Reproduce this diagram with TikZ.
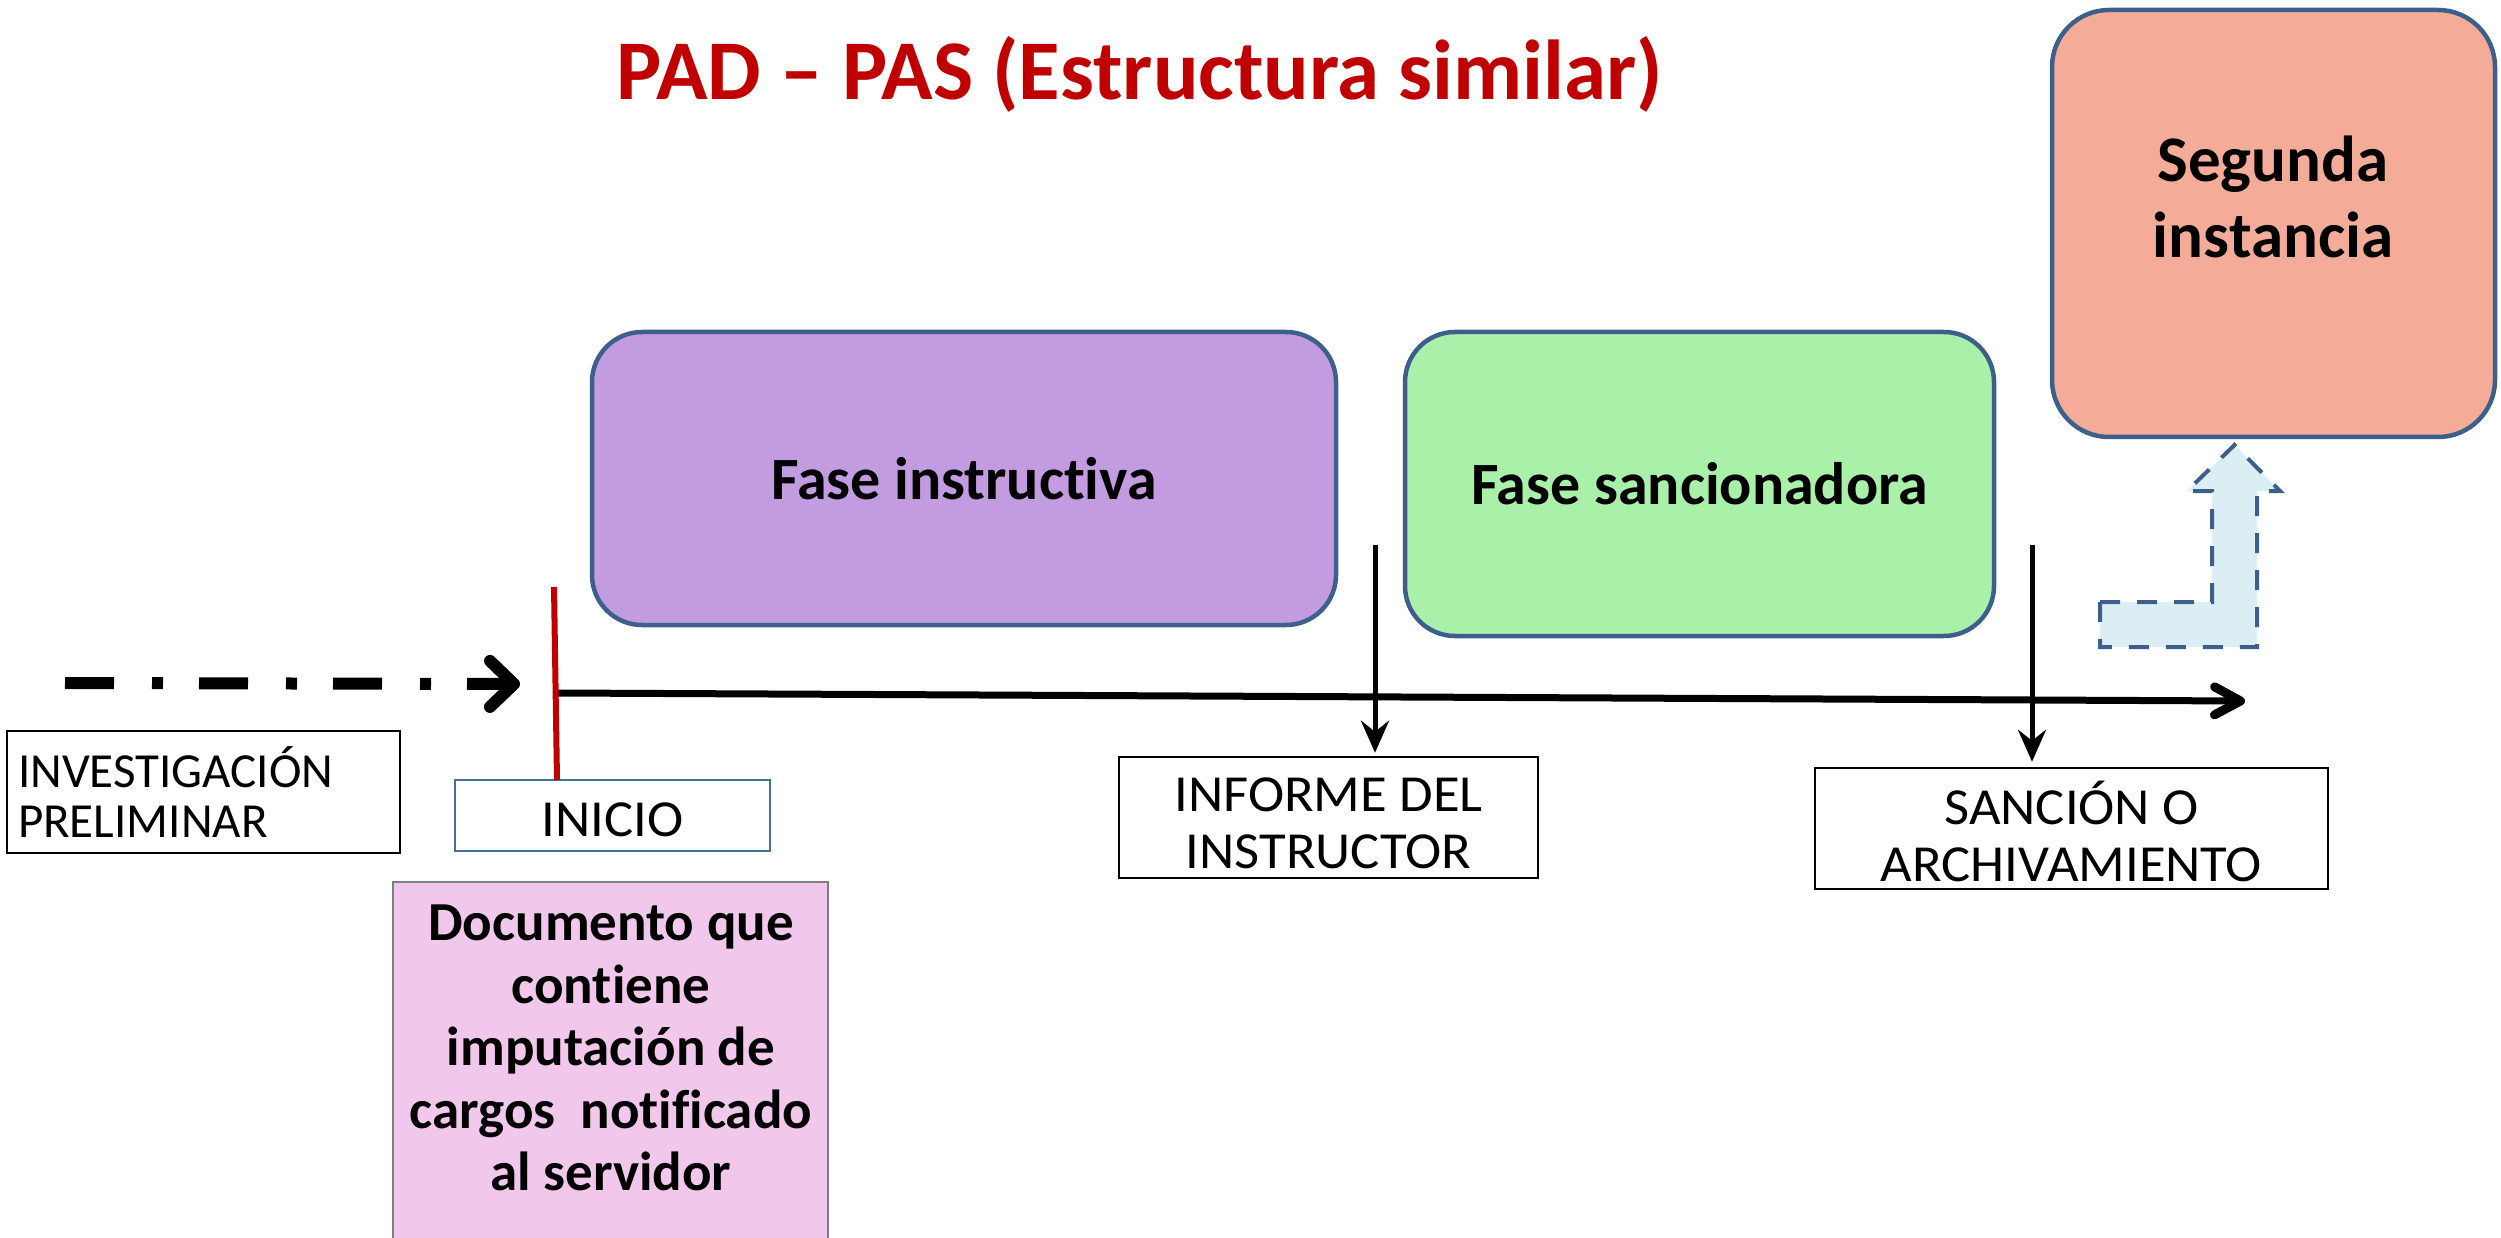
\documentclass[tikz,border=0pt]{standalone}
\usepackage{fontspec}
\setmainfont[Ligatures=NoCommon]{Carlito}
\newfontfamily\labfont[FakeStretch=1.05,Ligatures=NoCommon]{Carlito}
\usetikzlibrary{arrows.meta,calc}
\definecolor{titred}{HTML}{C00000}
\definecolor{purp}{HTML}{C39BE0}
\definecolor{grn}{HTML}{A9F1A9}
\definecolor{salm}{HTML}{F4AC98}
\definecolor{bordblue}{HTML}{3D5F8C}
\definecolor{pnk}{HTML}{F1C7EB}
\definecolor{ltblue}{HTML}{DAEEF3}
\definecolor{inicblue}{HTML}{41719C}
\definecolor{pnkborder}{HTML}{7F7F7F}
\begin{document}
\begin{tikzpicture}[x=1pt,y=-1pt,
  phase/.style={draw=bordblue, line width=4.5pt, rounded corners=50pt, inner sep=0pt, align=center,
    font=\bfseries\fontsize{60}{66}\selectfont},
  labbox/.style={draw=black, line width=2.5pt, fill=white, inner sep=0pt, align=center,
    font=\labfont\fontsize{52}{56}\selectfont},
  downarrow/.style={line width=5pt, -{Stealth[length=32pt,width=28pt,inset=11pt]}},
  ddarrow/.style={line width=12pt, dash pattern=on 49pt off 38pt on 11pt off 36pt,
    -{Straight Barb[length=24pt,width=46pt,round]}},
  axisarrow/.style={line width=7pt, -{Straight Barb[length=26pt,width=28pt,round,line width=9pt]}},
  bentarrow/.style={draw=bordblue, fill=ltblue, line width=4pt, dash pattern=on 20pt off 17pt},
]
\useasboundingbox (0,0) rectangle (2501,1238);

% title
\node[anchor=base, text=titred, font=\bfseries\fontsize{85}{90}\selectfont, inner sep=0pt] (title) at (1140,100) {PAD – PAS (Estructura similar)};

% phase boxes
\node[phase, fill=purp, minimum width=744pt, minimum height=293pt] (instr) at (964,478.5) {Fase instructiva};
\node[phase, fill=grn, minimum width=589pt, minimum height=304pt] (sanc) at (1699.5,484) {Fase sancionadora};
\node[phase, fill=salm, rounded corners=57pt, minimum width=443pt, minimum height=427pt] (seg) at (2273.5,223.5) {};
\node[inner sep=0pt, align=center, font=\bfseries\fontsize{65}{76}\selectfont] (segtxt) at (2273,197) {Segunda\\instancia};

% bent-up arrow
\draw[bentarrow] (2100,602) -- (2212,602) -- (2212,491) -- (2187,491) -- (2234.5,445) -- (2280,491) -- (2257,491) -- (2257,647) -- (2100,647) -- cycle;

% label boxes
\node[labbox, font=\fontsize{49}{50}\selectfont, align=left, text width=371pt, inner xsep=11pt, minimum height=122pt] (invest) at (203.5,792) {INVESTIGACIÓN\\PRELIMINAR};
\node[labbox, draw=inicblue, line width=2pt, minimum width=315pt, minimum height=71pt] (inicio) at (612.5,815.5) {\raisebox{-4pt}[\height][\depth]{INICIO}};
\node[labbox, minimum width=419pt, minimum height=121pt] (informe) at (1328.5,817.5) {\raisebox{-11.5pt}[\height][\depth]{\begin{tabular}{@{}c@{}}INFORME DEL\\[0.5pt]INSTRUCTOR\end{tabular}}};
\node[labbox, minimum width=513pt, minimum height=121pt] (sancion) at (2071.5,828.5) {\raisebox{-11.5pt}[\height][\depth]{\begin{tabular}{@{}c@{}}SANCIÓN O\\[1pt]ARCHIVAMIENTO\end{tabular}}};

% pink box
\node[draw=pnkborder, line width=1.5pt, fill=pnk, minimum width=435pt, minimum height=380pt, inner sep=0pt] (doc) at (610.5,1072) {};
\node[inner sep=0pt, align=center, font=\bfseries\fontsize{55}{62.5}\selectfont] (doctxt) at (611,1048) {Documento que\\contiene\\imputación de\\cargos~ notificado\\al servidor};

% coordinates
\coordinate (dd0) at (65,683);
\coordinate (dd1) at (520,684);
\coordinate (ax0) at (558,693);
\coordinate (ax1) at (2245,701);
\coordinate (red0) at (554,587);
\coordinate (red1) at (557,780);
\coordinate (inf0) at (1375,545);
\coordinate (san0) at (2032,545);

% connectors
\draw[ddarrow] (dd0) -- (dd1);
\draw[axisarrow] (ax0) -- (ax1);
\draw[titred, line width=6pt] (red0) -- (red1);
\draw[downarrow, shorten >=3pt] (inf0) -- (inf0 |- informe.north);
\draw[downarrow, shorten >=5pt] (san0) -- (san0 |- sancion.north);
\end{tikzpicture}
\end{document}
